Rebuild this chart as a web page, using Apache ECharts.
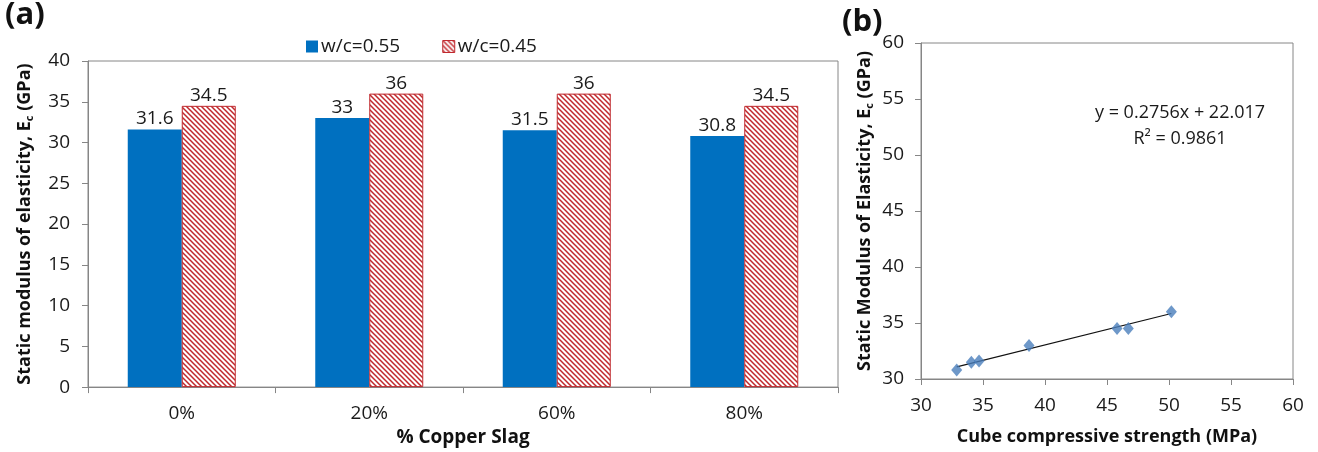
<!DOCTYPE html>
<html>
<head>
<meta charset="utf-8">
<script src="https://cdn.jsdelivr.net/npm/echarts@6/dist/echarts.min.js"></script>
<style>
html,body{margin:0;padding:0;background:#fff;}
#c{width:1318px;height:452px;}
</style>
</head>
<body>
<div id="c"></div>
<script>
// ---- Data ----
const categories = ['0%', '20%', '60%', '80%'];
const seriesNames = ['w/c=0.55', 'w/c=0.45'];
const wc055 = [31.6, 33, 31.5, 30.8];
const wc045 = [34.5, 36, 36, 34.5];
const strength = [32.88, 34.06, 34.68, 38.71, 45.81, 46.72, 50.19];
const modulus  = [30.8, 31.5, 31.6, 33, 34.5, 34.5, 36];
const slope = 0.2756, intercept = 22.017, r2 = 0.9861;

const FONT = 'Open Sans';
const TXT = '#1a1a1a';
const AX = '#868686';
const RED = '#c0282d';

// hatch pattern
function makeHatch(){
  const s = 5;
  const cv = document.createElement('canvas');
  cv.width = s; cv.height = s;
  const g = cv.getContext('2d');
  g.fillStyle = '#ffffff'; g.fillRect(0,0,s,s);
  g.strokeStyle = RED; g.lineWidth = 1.5;
  g.beginPath();
  g.moveTo(-1,-1); g.lineTo(s+1,s+1);
  g.moveTo(-1,s-1); g.lineTo(1,s+1);
  g.moveTo(s-1,-1); g.lineTo(s+1,1);
  g.stroke();
  return cv;
}
const hatch = {image: makeHatch(), repeat: 'repeat'};

const scatterData = strength.map((x,i)=>[x, modulus[i]]);
const xMin = Math.min(...strength), xMax = Math.max(...strength);
const trend = [[xMin, slope*xMin+intercept],[xMax, slope*xMax+intercept]];

const chart = echarts.init(document.getElementById('c'), null, {renderer:'canvas'});
chart.setOption({
  backgroundColor: '#ffffff',
  animation: false,
  textStyle: {fontFamily: FONT, color: TXT},
  legend: {
    left: 301, top: 32,
    itemWidth: 12, itemHeight: 12, itemGap: 42,
    data: [
      {name: seriesNames[0], icon: 'rect'},
      {name: seriesNames[1], icon: 'rect', itemStyle: {color: hatch, borderColor: RED, borderWidth:1}}
    ],
    textStyle: {fontFamily: FONT, fontSize: 19, color: TXT, padding:[0,0,0,-2]}
  },
  graphic: [
    {type:'text', left: 5, top: 0, style:{text:'(a)', font:'bold 31px "Open Sans"', fill:'#111'}},
    {type:'text', left: 842, top: 7, style:{text:'(b)', font:'bold 31px "Open Sans"', fill:'#111'}},
    {type:'text', x: 1180, y: 113, style:{text:'y = ' + slope + 'x + ' + intercept, font:'18px "Open Sans"', fill:TXT, align:'center', verticalAlign:'middle'}},
    {type:'text', x: 1180, y: 139, style:{text:'R² = ' + r2, font:'18px "Open Sans"', fill:TXT, align:'center', verticalAlign:'middle'}}
  ],
  grid: [
    {left: 88, top: 61, width: 750, height: 330, show: true, borderColor: AX, borderWidth: 1, backgroundColor:'transparent'},
    {left: 921, top: 43, width: 372, height: 336, show: true, borderColor: AX, borderWidth: 1, backgroundColor:'transparent'}
  ],
  xAxis: [
    {
      type: 'category', gridIndex: 0, data: categories,
      name: '% Copper Slag', nameLocation: 'middle', nameGap: 35,
      nameTextStyle: {fontFamily: FONT, fontWeight: 'bold', fontSize: 19, color: '#111'},
      axisLine: {lineStyle: {color: AX}},
      axisTick: {show: true, length: 6, lineStyle: {color: AX}},
      axisLabel: {fontFamily: FONT, fontSize: 19, color: TXT, margin: 17},
      splitLine: {show: false}
    },
    {
      type: 'value', gridIndex: 1, min: 30, max: 60, interval: 5,
      name: 'Cube compressive strength (MPa)', nameLocation: 'middle', nameGap: 49,
      nameTextStyle: {fontFamily: FONT, fontWeight: 'bold', fontSize: 18, color: '#111'},
      axisLine: {onZero: false, lineStyle: {color: AX}},
      axisTick: {show: true, length: 6, lineStyle: {color: AX}},
      axisLabel: {fontFamily: FONT, fontSize: 19, color: TXT, margin: 17},
      splitLine: {show: false}
    }
  ],
  yAxis: [
    {
      type: 'value', gridIndex: 0, min: 0, max: 40, interval: 5,
      name: 'Static modulus of elasticity, E{s|c} (GPa)', nameLocation: 'middle', nameGap: 53,
      nameTextStyle: {fontFamily: FONT, fontWeight: 'bold', fontSize: 18, color: '#111',
        rich: {s: {fontFamily: FONT, fontWeight: 'bold', fontSize: 11, color:'#111', padding:[9,0,0,0]}}},
      axisLine: {show: true, lineStyle: {color: AX}},
      axisTick: {show: true, length: 6, lineStyle: {color: AX}},
      axisLabel: {fontFamily: FONT, fontSize: 19, color: TXT, margin: 18},
      splitLine: {show: false}
    },
    {
      type: 'value', gridIndex: 1, min: 30, max: 60, interval: 5,
      name: 'Static Modulus of Elasticity, E{s|c} (GPa)', nameLocation: 'middle', nameGap: 46,
      nameTextStyle: {fontFamily: FONT, fontWeight: 'bold', fontSize: 18, color: '#111',
        rich: {s: {fontFamily: FONT, fontWeight: 'bold', fontSize: 11, color:'#111', padding:[9,0,0,0]}}},
      axisLine: {show: true, onZero: false, lineStyle: {color: AX}},
      axisTick: {show: true, length: 6, lineStyle: {color: AX}},
      axisLabel: {fontFamily: FONT, fontSize: 19, color: TXT, margin: 17},
      splitLine: {show: false}
    }
  ],
  series: [
    {
      name: seriesNames[0], type: 'bar', xAxisIndex: 0, yAxisIndex: 0,
      data: wc055, barGap: '0%', barCategoryGap: '42.4%',
      itemStyle: {color: '#0070c0'},
      label: {show: true, position: 'top', distance: 1, fontFamily: FONT, fontSize: 19, color: TXT}
    },
    {
      name: seriesNames[1], type: 'bar', xAxisIndex: 0, yAxisIndex: 0,
      data: wc045, barGap: '0%', barCategoryGap: '42.4%',
      itemStyle: {color: hatch, borderColor: RED, borderWidth: 1},
      label: {show: true, position: 'top', distance: 1, fontFamily: FONT, fontSize: 19, color: TXT}
    },
    {
      name: 'trend', type: 'line', xAxisIndex: 1, yAxisIndex: 1,
      data: trend, symbol: 'none', lineStyle: {color: '#111', width: 1.2}, z: 2
    },
    {
      name: 'points', type: 'scatter', xAxisIndex: 1, yAxisIndex: 1,
      data: scatterData, symbol: 'diamond', symbolSize: [11, 13],
      itemStyle: {color: '#4a7ebb'}, z: 3
    }
  ]
});
</script>
</body>
</html>
